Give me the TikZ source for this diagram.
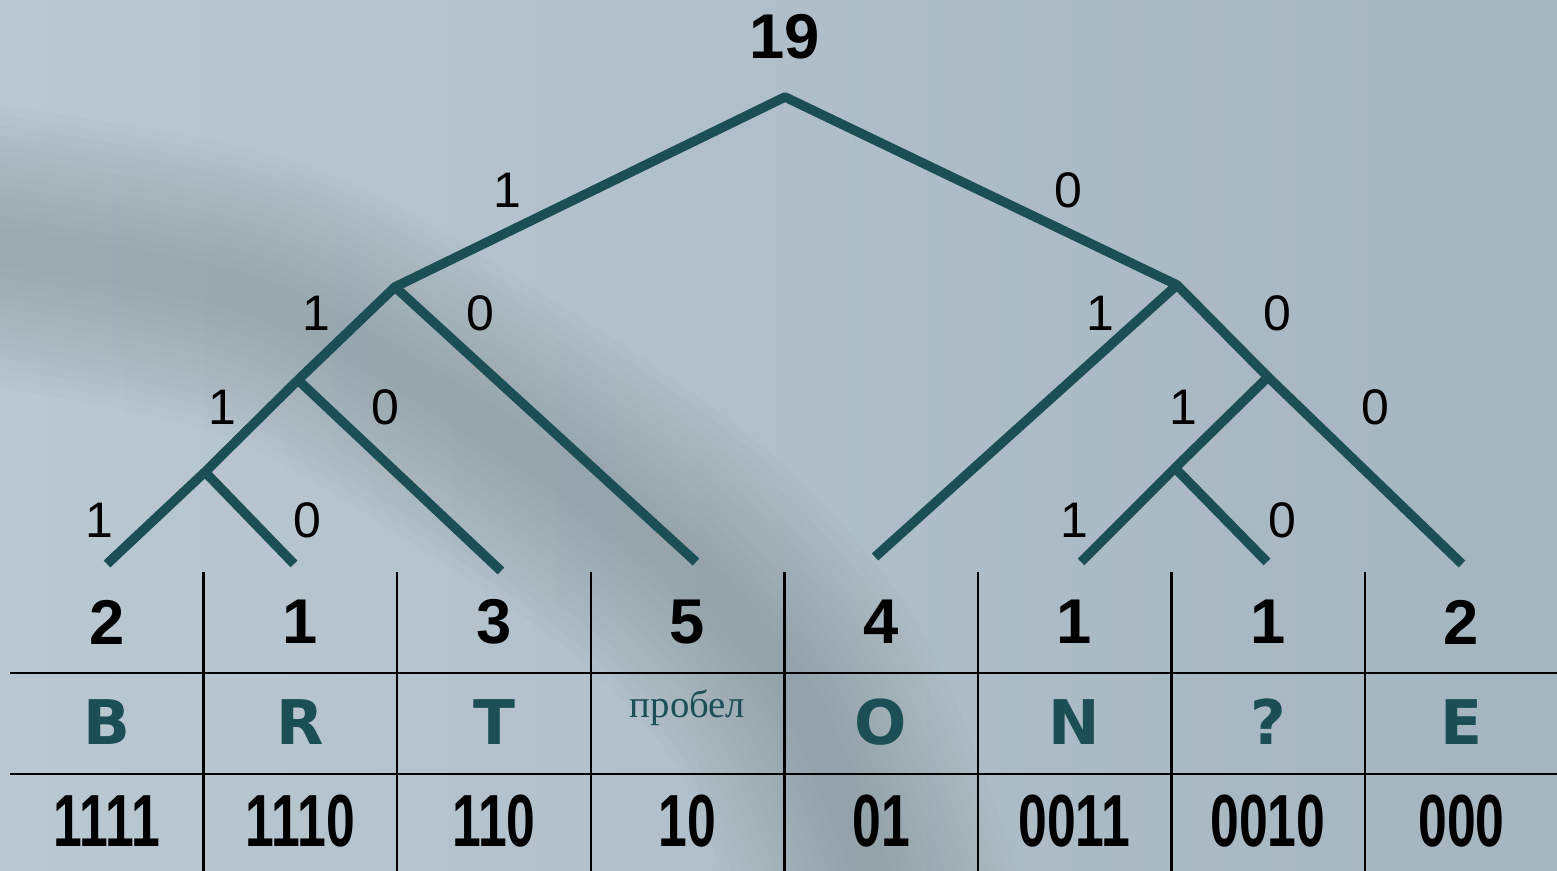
\documentclass[tikz,border=0pt]{standalone}
\usepackage{fontspec}
\setmainfont{Liberation Sans}
\newfontfamily\heavyfont{DejaVu Sans}
\newfontfamily\codefont[FakeStretch=0.7]{Liberation Sans}
\newfontfamily\cyrfont{Liberation Serif}
\usetikzlibrary{calc}

\definecolor{treeteal}{HTML}{1B4F55}
\definecolor{bgleft}{HTML}{BAC8D2}
\definecolor{bgright}{HTML}{A5B5BF}
\definecolor{smoke}{HTML}{6F7C80}

\begin{document}
\begin{tikzpicture}[
    x=0.01cm, y=-0.01cm,
    edge/.style={draw=treeteal, line width=0.095cm, line join=round},
    grid/.style={draw=black, line width=0.025cm},
    bitlbl/.style={font=\fontsize{14.2}{16}\selectfont, inner sep=0pt},
    total/.style={font=\bfseries\fontsize{18}{20}\selectfont, inner sep=0pt},
    weight/.style={font=\bfseries\fontsize{18}{20}\selectfont, inner sep=0pt},
    symbol/.style={font=\heavyfont\bfseries\fontsize{17.5}{20}\selectfont,
        text=treeteal, inner sep=0pt},
    codeword/.style={font=\codefont\bfseries\fontsize{21}{24}\selectfont, inner sep=0pt}
]
\useasboundingbox (0,0) rectangle (1557,871);

% background
\shade[left color=bgleft, right color=bgright] (0,0) rectangle (1557,871);
\foreach \w in {2.8,2.6,...,0.4}
  \draw[smoke, opacity=0.03, line width=\w cm, line cap=round]
    plot[smooth] coordinates {(-80,235) (250,295) (480,420) (680,560) (800,700) (880,900)};

% tree points
\coordinate (root) at (785,97);
\coordinate (n1) at (395,287);
\coordinate (n2) at (298,380);
\coordinate (n3) at (205,472);
\coordinate (m1) at (1177,285);
\coordinate (m2) at (1268,377);
\coordinate (m3) at (1175,468);
\coordinate (leaf1) at (107,564);
\coordinate (leaf2) at (294,564);
\coordinate (leaf3) at (501,571);
\coordinate (leaf4) at (696,562);
\coordinate (leaf5) at (875,557);
\coordinate (leaf6) at (1081,562);
\coordinate (leaf7) at (1267,562);
\coordinate (leaf8) at (1462,564);

% edges
\draw[edge] (leaf1) -- (n3) -- (n2) -- (n1) -- (root) -- (m1) -- (m2) -- (m3) -- (leaf6);
\draw[edge] (n3) -- (leaf2);
\draw[edge] (n2) -- (leaf3);
\draw[edge] (n1) -- (leaf4);
\draw[edge] (m1) -- (leaf5);
\draw[edge] (m2) -- (leaf8);
\draw[edge] (m3) -- (leaf7);

% root weight
\node[total] (sum) at (785,37) {19};

% bit labels
\node[bitlbl] (b1) at (507,190) {1};
\node[bitlbl] (b0) at (1068,190) {0};
\node[bitlbl] (b11) at (316,313) {1};
\node[bitlbl] (b10) at (480,313) {0};
\node[bitlbl] (b01) at (1100,313) {1};
\node[bitlbl] (b00) at (1277,313) {0};
\node[bitlbl] (b111) at (222,407) {1};
\node[bitlbl] (b110) at (385,407) {0};
\node[bitlbl] (b001) at (1183,407) {1};
\node[bitlbl] (b000) at (1375,407) {0};
\node[bitlbl] (b1111) at (99,520) {1};
\node[bitlbl] (b1110) at (307,520) {0};
\node[bitlbl] (b0011) at (1074,520) {1};
\node[bitlbl] (b0010) at (1282,520) {0};

% table
\draw[grid] (10,673) -- (1557,673);
\draw[grid] (10,774) -- (1557,774);
\foreach \i in {1,...,7}
  \draw[grid] (10+\i*193.6,572) -- (10+\i*193.6,871);

\foreach \cnt/\sym/\code [count=\i] in {2/B/1111, 1/R/1110, 3/T/110,
    5/{\cyrfont\mdseries\fontsize{11}{12}\selectfont\raisebox{10.5pt}{пробел}}/10,
    4/O/01, 1/N/0011, 1/?/0010, 2/E/000}
{
  \node[weight] (cnt\i) at (107+\i*193.5-193.5,622) {\cnt};
  \node[symbol] (sym\i) at (107+\i*193.5-193.5,722) {\sym};
  \node[codeword] (code\i) at (107+\i*193.5-193.5,821) {\code};
}
\end{tikzpicture}
\end{document}
